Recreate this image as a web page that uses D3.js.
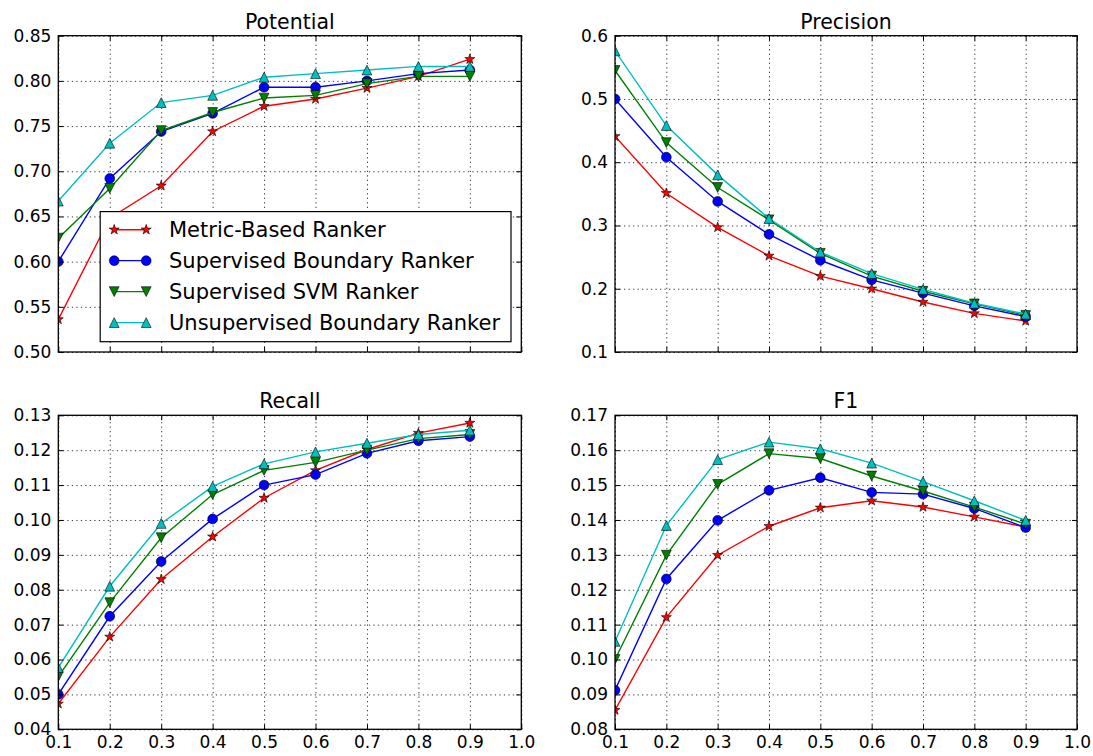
<!DOCTYPE html>
<html>
<head>
<meta charset="utf-8">
<script src="https://cdn.jsdelivr.net/npm/d3@7"></script>
<style>
    body { margin: 0; background: #fff; }
    svg { display: block; font-family: "DejaVu Sans", sans-serif; }
</style>
</head>
<body>
<svg id="chart" width="1093" height="756"></svg>
<script>
// x values (fraction) shared by all panels
const xValues = [0.1, 0.2, 0.3, 0.4, 0.5, 0.6, 0.7, 0.8, 0.9];
const xTicks = [0.1, 0.2, 0.3, 0.4, 0.5, 0.6, 0.7, 0.8, 0.9, 1.0];

const seriesNames = ['Metric-Based Ranker', 'Supervised Boundary Ranker',
                     'Supervised SVM Ranker', 'Unsupervised Boundary Ranker'];
const seriesColors = ['#ff0000', '#0000ff', '#008000', '#00bfbf'];
const seriesMarkers = ['star', 'circle', 'triangleDown', 'triangleUp'];

// Potential
const potentialTicks = [0.50, 0.55, 0.60, 0.65, 0.70, 0.75, 0.80, 0.85];
const potentialMetric = [0.536, 0.648, 0.684, 0.744, 0.772, 0.780, 0.792, 0.805, 0.824];
const potentialSupBoundary = [0.600, 0.692, 0.744, 0.764, 0.793, 0.793, 0.800, 0.808, 0.812];
const potentialSvm = [0.626, 0.681, 0.745, 0.765, 0.781, 0.784, 0.797, 0.805, 0.805];
const potentialUnsup = [0.667, 0.731, 0.776, 0.784, 0.804, 0.808, 0.812, 0.816, 0.816];

// Precision
const precisionTicks = [0.1, 0.2, 0.3, 0.4, 0.5, 0.6];
const precisionMetric = [0.441, 0.351, 0.297, 0.252, 0.220, 0.200, 0.179, 0.161, 0.149];
const precisionSupBoundary = [0.500, 0.408, 0.338, 0.286, 0.245, 0.214, 0.193, 0.173, 0.156];
const precisionSvm = [0.545, 0.431, 0.360, 0.309, 0.256, 0.220, 0.196, 0.176, 0.158];
const precisionUnsup = [0.576, 0.458, 0.380, 0.311, 0.258, 0.224, 0.199, 0.177, 0.160];

// Recall
const recallTicks = [0.04, 0.05, 0.06, 0.07, 0.08, 0.09, 0.10, 0.11, 0.12, 0.13];
const recallMetric = [0.0473, 0.0665, 0.0830, 0.0952, 0.1063, 0.1142, 0.1202, 0.1249, 0.1278];
const recallSupBoundary = [0.0500, 0.0724, 0.0881, 0.1003, 0.1100, 0.1130, 0.1191, 0.1227, 0.1239];
const recallSvm = [0.0551, 0.0763, 0.0949, 0.1073, 0.1142, 0.1165, 0.1200, 0.1233, 0.1245];
const recallUnsup = [0.0577, 0.0810, 0.0990, 0.1096, 0.1161, 0.1195, 0.1220, 0.1245, 0.1257];

// F1
const f1Ticks = [0.08, 0.09, 0.10, 0.11, 0.12, 0.13, 0.14, 0.15, 0.16, 0.17];
const f1Metric = [0.0855, 0.1121, 0.1299, 0.1382, 0.1435, 0.1455, 0.1437, 0.1409, 0.1380];
const f1SupBoundary = [0.0912, 0.1231, 0.1399, 0.1485, 0.1521, 0.1479, 0.1474, 0.1433, 0.1378];
const f1Svm = [0.1000, 0.1299, 0.1502, 0.1590, 0.1576, 0.1526, 0.1483, 0.1437, 0.1388];
const f1Unsup = [0.1052, 0.1384, 0.1573, 0.1623, 0.1604, 0.1563, 0.1510, 0.1455, 0.1399];

window.Chart = window.Chart || {};

Chart.panels = [
    { title: 'Potential', ticks: potentialTicks, fmt: '.2f', col: 0, row: 0, legend: true,
      series: [potentialMetric, potentialSupBoundary, potentialSvm, potentialUnsup] },
    { title: 'Precision', ticks: precisionTicks, fmt: '.1f', col: 1, row: 0,
      series: [precisionMetric, precisionSupBoundary, precisionSvm, precisionUnsup] },
    { title: 'Recall', ticks: recallTicks, fmt: '.2f', col: 0, row: 1,
      series: [recallMetric, recallSupBoundary, recallSvm, recallUnsup] },
    { title: 'F1', ticks: f1Ticks, fmt: '.2f', col: 1, row: 1,
      series: [f1Metric, f1SupBoundary, f1Svm, f1Unsup] }
];

Chart.layout = {
    cols: [[58.3, 521.3], [615, 1077]],
    rows: [[35.7, 352], [415.3, 729.3]],
    tickLen: 5,
    fontSize: 17
};

Chart.marker = function(type) {
    let r = 4.9;
    if (type === 'circle') {
        return d3.symbol(d3.symbolCircle, Math.PI * r * r)();
    }
    if (type === 'triangleUp') {
        return 'M0,' + (-r) + 'L' + r + ',' + r + 'L' + (-r) + ',' + r + 'Z';
    }
    if (type === 'triangleDown') {
        return 'M0,' + r + 'L' + r + ',' + (-r) + 'L' + (-r) + ',' + (-r) + 'Z';
    }
    // five-pointed star
    let pts = [];
    let ro = 5.3, ri = ro * 0.382;
    for (let i = 0; i < 10; i++) {
        let a = -Math.PI / 2 + i * Math.PI / 5;
        let rr = i % 2 === 0 ? ro : ri;
        pts.push([rr * Math.cos(a), rr * Math.sin(a)]);
    }
    return 'M' + pts.map(p => p[0].toFixed(2) + ',' + p[1].toFixed(2)).join('L') + 'Z';
};

Chart.drawPanel = function(svg, p, idx) {
    const L = Chart.layout;
    const [x0, x1] = L.cols[p.col];
    const [y0, y1] = L.rows[p.row];
    const w = x1 - x0, h = y1 - y0;

    const x = d3.scaleLinear().domain([0.1, 1.0]).range([0, w]);
    const y = d3.scaleLinear().domain(d3.extent(p.ticks)).range([h, 0]);

    const g = svg.append('g').attr('transform', 'translate(' + x0 + ',' + y0 + ')');

    g.append('clipPath').attr('id', 'clip' + idx)
        .append('rect').attr('width', w).attr('height', h);

    // grid
    g.append('g').attr('class', 'grid')
        .attr('transform', 'translate(0,' + h + ')')
        .call(d3.axisBottom(x).tickValues(xTicks).tickSize(-h).tickFormat(''));
    g.append('g').attr('class', 'grid')
        .call(d3.axisLeft(y).tickValues(p.ticks).tickSize(-w).tickFormat(''));
    g.selectAll('.grid .domain').remove();
    g.selectAll('.grid line')
        .attr('stroke', '#000')
        .attr('stroke-width', 0.9)
        .attr('stroke-dasharray', '1.3,3.2')
        .attr('opacity', 0.85);

    // series
    const line = d3.line().x((d, i) => x(xValues[i])).y(d => y(d));
    const plot = g.append('g').attr('clip-path', 'url(#clip' + idx + ')');
    p.series.forEach(function(vals, s) {
        plot.append('path')
            .datum(vals)
            .attr('d', line)
            .attr('fill', 'none')
            .attr('stroke', seriesColors[s])
            .attr('stroke-width', 1.4);
        plot.selectAll('.m' + s)
            .data(vals)
            .enter()
                .append('path')
                    .attr('class', 'm' + s)
                    .attr('d', Chart.marker(seriesMarkers[s]))
                    .attr('transform', (d, i) => 'translate(' + x(xValues[i]) + ',' + y(d) + ')')
                    .attr('fill', seriesColors[s])
                    .attr('stroke', '#000')
                    .attr('stroke-width', 0.6);
    });

    // ticks on all four sides, pointing inwards
    const fmtY = d3.format(p.fmt);
    const left = g.append('g')
        .call(d3.axisLeft(y).tickValues(p.ticks).tickSize(-L.tickLen).tickPadding(7).tickFormat(fmtY));
    const right = g.append('g').attr('transform', 'translate(' + w + ',0)')
        .call(d3.axisRight(y).tickValues(p.ticks).tickSize(-L.tickLen).tickFormat(''));
    const top = g.append('g')
        .call(d3.axisTop(x).tickValues(xTicks).tickSize(-L.tickLen).tickFormat(''));
    const bottom = g.append('g').attr('transform', 'translate(0,' + h + ')')
        .call(d3.axisBottom(x).tickValues(xTicks).tickSize(-L.tickLen).tickPadding(7)
            .tickFormat(p.row === 1 ? d3.format('.1f') : ''));
    [left, right, top, bottom].forEach(function(a) {
        a.select('.domain').remove();
        a.selectAll('line').attr('stroke', '#000').attr('stroke-width', 1);
        a.selectAll('text')
            .attr('fill', '#000')
            .style('font-size', L.fontSize + 'px')
            .style('font-family', '"DejaVu Sans", sans-serif');
    });

    // frame
    g.append('rect')
        .attr('width', w).attr('height', h)
        .attr('fill', 'none')
        .attr('stroke', '#000')
        .attr('stroke-width', 1.3);

    // title
    g.append('text')
        .attr('x', w / 2).attr('y', -7)
        .attr('text-anchor', 'middle')
        .style('font-size', '20.5px')
        .text(p.title);

    if (p.legend) Chart.drawLegend(svg);
};

Chart.drawLegend = function(svg) {
    const lg = svg.append('g').attr('transform', 'translate(100.2,211.6)');
    lg.append('rect')
        .attr('width', 410.8).attr('height', 130.1)
        .attr('fill', '#fff')
        .attr('stroke', '#000')
        .attr('stroke-width', 1.2);

    const rowY = d3.scalePoint().domain(seriesNames).range([18.1, 111]);
    seriesNames.forEach(function(name, s) {
        const ry = rowY(name);
        lg.append('line')
            .attr('x1', 14).attr('x2', 46)
            .attr('y1', ry).attr('y2', ry)
            .attr('stroke', seriesColors[s])
            .attr('stroke-width', 1.4);
        [14, 46].forEach(function(mx) {
            lg.append('path')
                .attr('d', Chart.marker(seriesMarkers[s]))
                .attr('transform', 'translate(' + mx + ',' + ry + ')')
                .attr('fill', seriesColors[s])
                .attr('stroke', '#000')
                .attr('stroke-width', 0.6);
        });
        lg.append('text')
            .attr('x', 68.8).attr('y', ry)
            .attr('dy', '0.36em')
            .style('font-size', '21px')
            .text(name);
    });
};

Chart.init = function() {
    const svg = d3.select('#chart');
    Chart.panels.forEach(function(p, i) { Chart.drawPanel(svg, p, i); });
};

document.addEventListener('DOMContentLoaded', Chart.init);
</script>
</body>
</html>
